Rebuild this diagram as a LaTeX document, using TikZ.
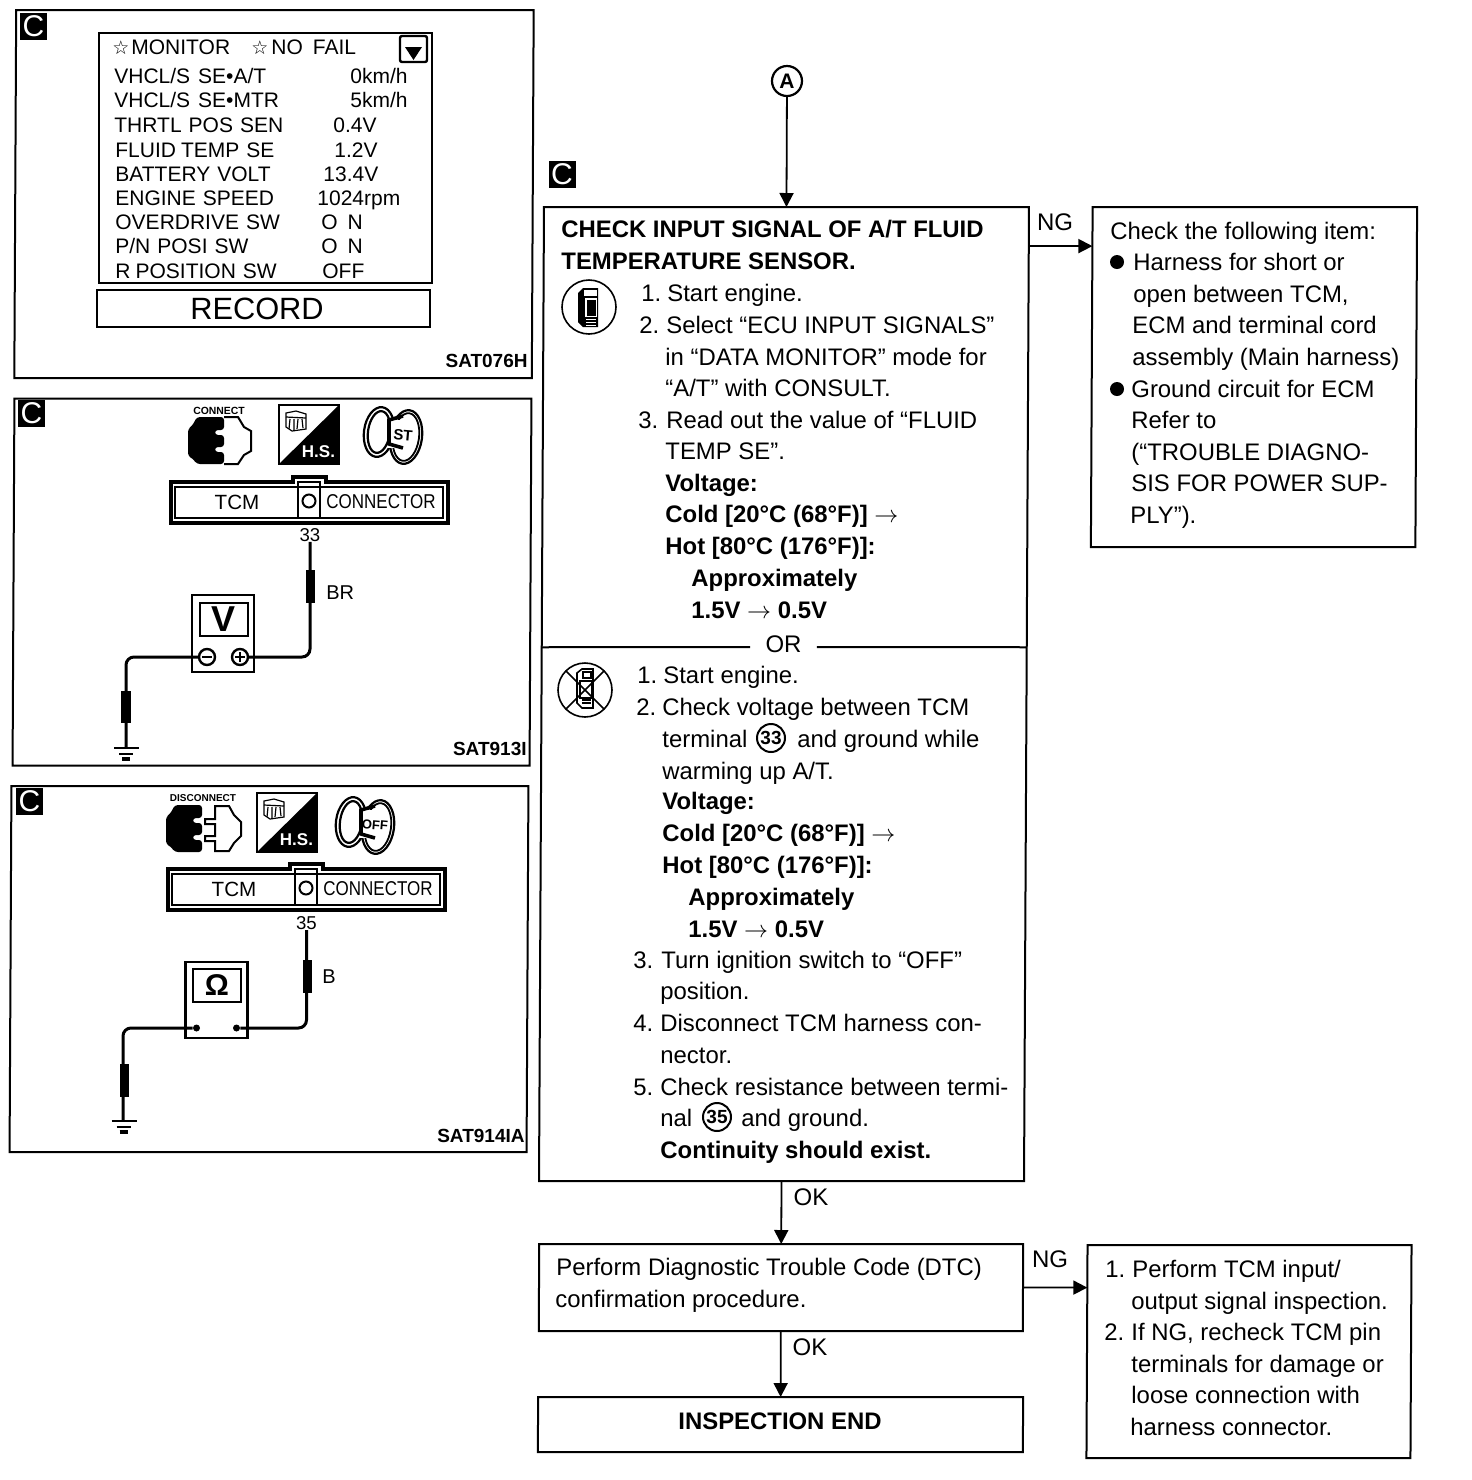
\documentclass[tikz,border=0pt]{standalone}
\usepackage{fontspec}
\setmainfont{Liberation Sans}
\newfontfamily\djv{DejaVu Sans}
\usetikzlibrary{arrows.meta,calc}
\newcounter{tn}
\newcommand\tl[4][tx]{\stepcounter{tn}\node[#1] (t\arabic{tn}) at (#2,#3) {#4};}
\newcommand\fnt[1]{\fontsize{#1}{#1}\selectfont}
\newcommand\rar{$\rightarrow$}
\tikzset{
  tx/.style={anchor=base west,inner sep=0pt,font=\fnt{11.95}},
  bd/.style={tx,font=\fnt{11.95}\bfseries},
  mon/.style={tx,font=\fnt{10.5}},
  sat/.style={anchor=base east,inner sep=0pt,font=\fnt{9.5}\bfseries},
  lbl/.style={anchor=center,inner sep=0pt,font=\fnt{12}},
  rbx/.style={draw,line width=1pt,inner sep=0pt,outer sep=0pt,xslant=0.0051},
  arr/.style={line width=0.9pt,-{Triangle[width=7pt,length=7pt]}},
  cbadge/.style={fill=black,text=white,minimum size=13.5pt,inner sep=0pt,font=\fnt{15}},
  wire/.style={line width=1.5pt,rounded corners=4pt},
  sheath/.style={fill=black,draw=none},
  cnum/.style={draw,circle,line width=1pt,minimum size=14pt,inner sep=0pt,font=\fnt{9.5}\bfseries},
}
\newcommand\boxx[5]{\node[rbx,minimum width=#4*0.5pt,minimum height=#5*0.5pt] (#1) at (#2,#3) {};}
\newcommand\hsbox[2]{\begin{scope}[shift={(#1,#2)}]
  \draw[line width=1pt] (0,0) rectangle (60,59);
  \fill (0,59) -- (60,0) -- (60,59) -- cycle;
  \node[inner sep=0pt,text=white,font=\fnt{8.5}\bfseries] at (39.5,47) {H.S.};
  \draw[line width=.6pt] (7,8) -- (17,6) -- (27,9) -- (27,24) -- (13,26) -- (7,22) -- cycle;
  \draw[line width=.6pt] (7,12) -- (27,13) (11,14)--(10,24) (15,14)--(15,26) (19,14)--(18,24) (23,14)--(24,23);
\end{scope}}
\newcommand\plugblack[2]{\fill[shift={(#1,#2)},rounded corners=1.5pt] (9,0) -- (36,0) -- (36,13) -- (27,13) -- (27,18) -- (36,18) -- (36,30) -- (27,30) -- (27,35) -- (36,35) -- (36,47) -- (9,47) -- (4,41) -- (0,39) -- (0,12) -- (4,9) -- cycle;}
\newcommand\tcmconn[2]{\begin{scope}[shift={(#1,#2)}]
  \draw[line width=1.6pt] (171,482) -- (293,482) -- (293,477) -- (326,477) -- (326,482) -- (448,482) -- (448,523) -- (171,523) -- cycle;
  \draw[line width=1.2pt] (175,487) rectangle (443,518);
  \draw[line width=1.2pt] (298,482) rectangle (320,518);
  \draw[line width=1pt] (309,501) circle (6.5);
  \node[inner sep=0pt,font=\fnt{10.3}] at (237,502) {TCM};
  \node[inner sep=0pt,font=\fnt{10}] at (381,502) {\scalebox{0.85}[1]{CONNECTOR}};
\end{scope}}
\newcommand\gnd[2]{\begin{scope}[shift={(#1,#2)}]
  \draw[line width=1.1pt] (-12,0) -- (13,0) (-7,6) -- (7,6);
  \draw[line width=1.6pt] (-4,11) -- (4,11);
\end{scope}}
\newcommand\keyicon[4]{\begin{scope}[shift={(#1,#2)}]
  \draw[line width=1.1pt,rotate around={-8:(0,0)}] (0,0) ellipse (15 and 25);
  \draw[line width=1.1pt,rotate around={-8:(0,0)}] (0,0) ellipse (11 and 21);
  \fill[white,rotate around={-8:(27,5)}] (27,5) ellipse (16 and 27);
  \draw[line width=1.1pt,rotate around={-8:(27,5)}] (27,5) ellipse (16 and 27);
  \draw[line width=.9pt,rotate around={-8:(27,5)}] (27,5) ellipse (13 and 24);
  \fill[white] (8,-12) rectangle (24,16);
  \draw[line width=1.8pt] (24,-16) -- (10,-12) -- (10,12) -- (24,16);
  \node[inner sep=0pt,font=\fnt{#4}\bfseries,rotate=-5] at (24,3) {#3};
\end{scope}}
\begin{document}
\begin{tikzpicture}[x=0.5pt,y=-0.5pt]
\useasboundingbox (0,0) rectangle (1472,1480);
\fill[white] (0,0) rectangle (1472,1480);
%% panels
\boxx{pa}{274}{194}{517.5}{368}
\boxx{pb}{272}{582}{517}{367}
\boxx{pc}{269}{969}{517}{366}
\node[cbadge] (ca) at (33.5,26) {C};
\node[cbadge] (cb) at (31.5,413.5) {C};
\node[cbadge] (cc) at (29.5,801.5) {C};
\node[cbadge] (cd) at (562,174) {C};
%% panel 1: monitor
\draw[line width=1pt] (99,33) rectangle (432,283);
\node[draw,line width=1pt,inner sep=0pt,minimum width=166.5pt,minimum height=18.5pt] (rec) at (263.5,308) {};
\node[inner sep=0pt,font=\fnt{15.4}] (rect) at (257,309) {RECORD};
\draw[line width=1.2pt,rounded corners=1pt] (400,36) rectangle (427,62);
\fill (405,47) -- (422,47) -- (413.5,60) -- cycle;
\tl[mon]{112}{54}{{\djv\fnt{9.5}☆}}
\tl[mon]{131}{54}{MONITOR}
\tl[mon]{251}{54}{{\djv\fnt{9.5}☆}}
\tl[mon]{271}{54}{NO\hspace{5pt}FAIL}
\tl[mon]{114}{83}{VHCL/S\hspace{4pt}SE•A/T}
\tl[mon]{350}{83}{0km/h}
\tl[mon]{114}{107}{VHCL/S\hspace{4pt}SE•MTR}
\tl[mon]{350}{107}{5km/h}
\tl[mon]{114}{132}{THRTL\hspace{3.5pt}POS\hspace{3.5pt}SEN}
\tl[mon]{333}{132}{0.4V}
\tl[mon]{115}{157}{FLUID\hspace{2.5pt}TEMP\hspace{3.5pt}SE}
\tl[mon]{334}{157}{1.2V}
\tl[mon]{115}{181}{BATTERY\hspace{3.5pt}VOLT}
\tl[mon]{323}{181}{13.4V}
\tl[mon]{115}{205}{ENGINE\hspace{3.5pt}SPEED}
\tl[mon]{317}{205}{1024rpm}
\tl[mon]{115}{229}{OVERDRIVE\hspace{3.5pt}SW}
\tl[mon]{321}{229}{O\hspace{5pt}N}
\tl[mon]{115}{253}{P/N\hspace{3.5pt}POSI\hspace{3.5pt}SW}
\tl[mon]{321}{253}{O\hspace{5pt}N}
\tl[mon]{115}{278}{R\hspace{2.5pt}POSITION\hspace{3.5pt}SW}
\tl[mon]{322}{278}{OFF}
\tl[sat]{528}{367}{SAT076H}
%% panel 2
\node[inner sep=0pt,font=\fnt{5.2}\bfseries] (cn) at (219,411) {CONNECT};
\draw[line width=1pt,fill=white] (224,417) -- (238,417) -- (244,427) -- (251,431) -- (251,451) -- (244,455) -- (238,464) -- (224,464);
\plugblack{188}{417}
\hsbox{279}{405}
\keyicon{379}{432}{ST}{7.5}
\tcmconn{0}{0}
\node[inner sep=0pt,font=\fnt{9.3}] (n33) at (310,535) {33};
\node[draw,line width=1.2pt,inner sep=0pt,minimum width=31pt,minimum height=38.5pt,fill=white] (mv) at (223,633.5) {};
\node[draw,line width=1.1pt,inner sep=0pt,minimum width=24pt,minimum height=16.5pt,font=\fnt{18}\bfseries] (dv) at (224,619.5) {V};
\node[draw,circle,line width=1.2pt,inner sep=0pt,minimum size=8pt] (mminus) at (207,657) {};
\node[draw,circle,line width=1.2pt,inner sep=0pt,minimum size=8pt] (mplus) at (240,657) {};
\draw[line width=1pt] (202,657) -- (212,657) (235,657) -- (245,657) (240,652) -- (240,662);
\coordinate (ga) at (126,748);
\draw[wire] (n33.south) |- (mplus.east);
\draw[wire] (mminus.west) -| (ga);
\fill[sheath] (306,570) rectangle (315,603);
\fill[sheath] (121,691) rectangle (131,723);
\gnd{126}{748}
\tl[tx]{326}{599}{\fnt{10}BR}
\tl[sat]{527}{755}{SAT913I}
%% panel 3
\node[inner sep=0pt,font=\fnt{5}\bfseries] (dn) at (203,798) {DISCONNECT};
\plugblack{166}{805}
\draw[line width=1pt,fill=white] (215,806) -- (229,806) -- (234,815) -- (241,822) -- (241,836) -- (234,843) -- (229,851) -- (215,851) -- (215,841) -- (205,841) -- (205,836) -- (215,836) -- (215,824) -- (205,824) -- (205,819) -- (215,819) -- cycle;
\hsbox{257}{793}
\keyicon{351}{822}{OFF}{6.5}
\tcmconn{-3}{387}
\node[inner sep=0pt,font=\fnt{9.3}] (n35) at (306.5,923) {35};
\node[draw,line width=1.2pt,inner sep=0pt,minimum width=31pt,minimum height=38pt,fill=white] (mo) at (216.5,1000) {};
\node[draw,line width=1.1pt,inner sep=0pt,minimum width=24pt,minimum height=16.5pt,font=\fnt{15}\bfseries] (dO) at (217,985.5) {Ω};
\node[fill,circle,inner sep=0pt,minimum size=3.5pt] (dota) at (196.5,1028) {};
\node[fill,circle,inner sep=0pt,minimum size=3.5pt] (dotb) at (236.5,1028) {};
\coordinate (gb) at (123,1121);
\draw[wire] (n35.south) |- (dotb.east);
\draw[wire] (dota.west) -| (gb);
\fill[sheath] (303,960) rectangle (312,993);
\fill[sheath] (120,1064) rectangle (129,1097);
\gnd{123.5}{1121}
\tl[tx]{322}{983}{\fnt{10}B}
\tl[sat]{525}{1142}{SAT914IA}
%% flow
\node[draw,circle,line width=1.1pt,inner sep=0pt,minimum size=15pt,font=\fnt{10.5}\bfseries] (A) at (787,81) {A};
\boxx{main}{784}{694}{485}{974}
\boxx{ngb}{1254}{377}{324.5}{340}
\boxx{dtc}{781}{1287.5}{484}{87}
\boxx{endb}{780.5}{1424.5}{485}{55}
\boxx{prf}{1249}{1351.5}{324}{213}
\draw[arr] (A) -- (main.north);
\draw[arr] ($(main.north east)!0.04!(main.south east)$) -- ($(ngb.north west)!0.115!(ngb.south west)$);
\draw[arr] (main.south) -- (dtc.north);
\draw[arr] (dtc.east) -- ($(prf.north west)!0.2!(prf.south west)$);
\draw[arr] (dtc.south) -- (endb.north);
\node[lbl] (ng1) at (1055,222) {NG};
\node[lbl] (ok1) at (811,1197) {OK};
\node[lbl] (ng2) at (1050,1259) {NG};
\node[lbl] (ok2) at (810,1347) {OK};
\node[lbl,inner xsep=7.5pt,inner ysep=0pt] (or) at (783.5,644) {OR};
\draw[line width=1pt] ($(main.north west)!0.452!(main.south west)$) -- (or.west |- 0,647);
\draw[line width=1pt] (or.east |- 0,647) -- ($(main.north east)!0.452!(main.south east)$);
%% upper
\tl[bd]{561}{237}{CHECK INPUT SIGNAL OF A/T FLUID}
\tl[bd]{561}{269}{TEMPERATURE SENSOR.}
\tl{641}{301}{1.}
\tl{667}{301}{Start engine.}
\tl{639}{333}{2.}
\tl{666}{333}{Select “ECU INPUT SIGNALS”}
\tl{665}{365}{in “DATA MONITOR” mode for}
\tl{665}{396}{“A/T” with CONSULT.}
\tl{638}{428}{3.}
\tl{666}{428}{Read out the value of “FLUID}
\tl{665}{459}{TEMP SE”.}
\tl[bd]{665}{491}{Voltage:}
\tl[bd]{665}{522}{Cold [20°C (68°F)] \rar}
\tl[bd]{665}{554}{Hot [80°C (176°F)]:}
\tl[bd]{691}{586}{Approximately}
\tl[bd]{691}{618}{1.5V \rar\ 0.5V}
%% lower
\tl{637}{683}{1.}
\tl{663}{683}{Start engine.}
\tl{636}{715}{2.}
\tl{662}{715}{Check voltage between TCM}
\tl{662}{747}{terminal}
\node[cnum] (c33) at (771,738) {33};
\tl{797}{747}{and ground while}
\tl{662}{779}{warming up A/T.}
\tl[bd]{662}{809}{Voltage:}
\tl[bd]{662}{841}{Cold [20°C (68°F)] \rar}
\tl[bd]{662}{873}{Hot [80°C (176°F)]:}
\tl[bd]{688}{905}{Approximately}
\tl[bd]{688}{937}{1.5V \rar\ 0.5V}
\tl{633}{968}{3.}
\tl{661}{968}{Turn ignition switch to “OFF”}
\tl{660}{999}{position.}
\tl{633}{1031}{4.}
\tl{660}{1031}{Disconnect TCM harness con-}
\tl{660}{1063}{nector.}
\tl{633}{1095}{5.}
\tl{660}{1095}{Check resistance between termi-}
\tl{660}{1126}{nal}
\node[cnum] (c35) at (717,1117) {35};
\tl{741}{1126}{and ground.}
\tl[bd]{660}{1158}{Continuity should exist.}
%% NG box
\tl{1110}{239}{Check the following item:}
\node[fill,circle,inner sep=0pt,minimum size=7pt] (ba) at (1117,262) {};
\tl{1133}{270}{Harness for short or}
\tl{1133}{302}{open between TCM,}
\tl{1132}{333}{ECM and terminal cord}
\tl{1132}{365}{assembly (Main harness)}
\node[fill,circle,inner sep=0pt,minimum size=7pt] (bb) at (1117,389) {};
\tl{1131}{397}{Ground circuit for ECM}
\tl{1131}{428}{Refer to}
\tl{1131}{460}{(“TROUBLE DIAGNO-}
\tl{1131}{491}{SIS FOR POWER SUP-}
\tl{1130}{523}{PLY”).}
%% DTC
\tl{556}{1275}{Perform Diagnostic Trouble Code (DTC)}
\tl{555}{1307}{confirmation procedure.}
\node[lbl,font=\fnt{11.95}\bfseries] (iend) at (780,1421) {INSPECTION END};
\tl{1105}{1277}{1.}
\tl{1132}{1277}{Perform TCM input/}
\tl{1131}{1309}{output signal inspection.}
\tl{1104}{1340}{2.}
\tl{1131}{1340}{If NG, recheck TCM pin}
\tl{1131}{1372}{terminals for damage or}
\tl{1131}{1403}{loose connection with}
\tl{1130}{1435}{harness connector.}
%% consult icons
\draw[line width=.8pt] (589,307) circle (27);
\fill (583,288) -- (598,288) -- (598,327) -- (583,327) -- (578,322) -- (578,293) -- cycle;
\fill[white] (584,290) rectangle (596.5,296);
\fill[white] (585,298) rectangle (597,317);
\fill (587,300) rectangle (596,316);
\draw[white,line width=.5pt] (586,319) -- (596,319) (586,322) -- (596,322) (586,325) -- (596,325);
\draw[line width=.8pt] (585,690) circle (27);
\draw[line width=.8pt] (577,673) -- (582,669) -- (593,669) -- (593,708) -- (582,708) -- (577,703) -- cycle;
\draw[line width=.6pt] (583,672) rectangle (591,678) (580,681) rectangle (592,698) (582,700) -- (591,700) (582,703) -- (591,703);
\draw[line width=.8pt] (566,671) -- (604,709) (604,671) -- (566,709);
\end{tikzpicture}
\end{document}
